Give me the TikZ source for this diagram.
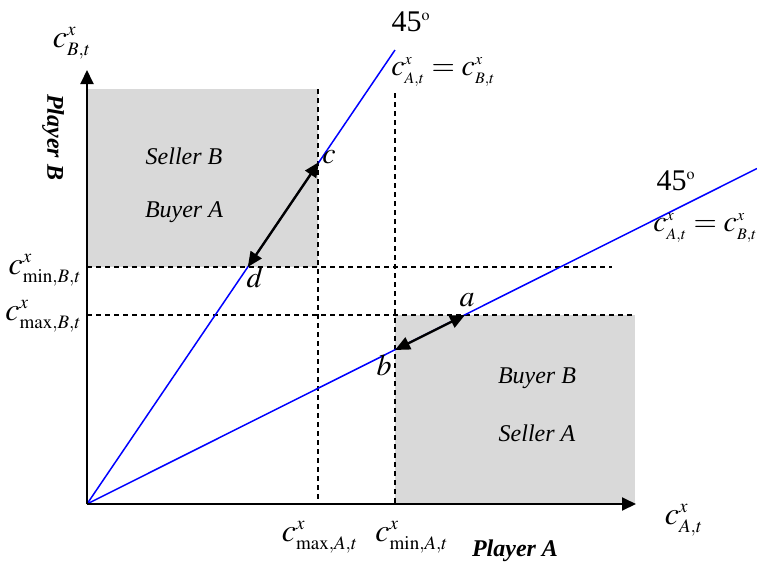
\documentclass[tikz,border=0pt]{standalone}
\usepackage{amsmath}
\usepackage{mathptmx}
\usepackage{fontspec}
\setmainfont{Liberation Serif}
\usetikzlibrary{arrows.meta, positioning}
\DeclareMathSizes{15}{15}{8}{6}
\DeclareMathSizes{16}{16}{9.5}{7}
\definecolor{zonegray}{HTML}{D9D9D9}
\definecolor{diagblue}{HTML}{0000FF}

\begin{document}
\begin{tikzpicture}[x=0.5pt, y=-0.5pt,
  axis/.style={line width=1pt, -{Triangle[length=7pt, width=6.5pt]}},
  diag/.style={line width=0.75pt, diagblue},
  bound/.style={line width=0.7pt, dash pattern=on 2.5pt off 2pt},
  move/.style={line width=1.2pt, {Triangle[length=7.5pt, width=6.5pt]}-{Triangle[length=7.5pt, width=6.5pt]}},
  lbl/.style={font=\fontsize{15}{17}\selectfont, inner sep=1pt},
  tick/.style={font=\fontsize{16}{18}\selectfont, inner sep=1pt},
  zone/.style={font=\fontsize{12}{14}\selectfont\itshape, inner sep=1pt},
  player/.style={font=\fontsize{12}{14}\selectfont\bfseries\itshape, inner sep=1pt},
  pt/.style={font=\fontsize{15}{17}\selectfont, inner sep=1pt}
]
\useasboundingbox (0,0) rectangle (757,564);

% origin, axes ends
\coordinate (O) at (87,504);
\coordinate (xtip) at (636,504);
\coordinate (ytip) at (87,70);

% bounds
\coordinate (maxAtop) at (318,89);
\coordinate (maxAbot) at (318,504);
\coordinate (minAtop) at (395,93);
\coordinate (minAbot) at (395,504);
\coordinate (minBl) at (87,267);
\coordinate (minBr) at (612,267);
\coordinate (maxBl) at (87,315);
\coordinate (maxBr) at (635,315);

% 45 degree lines
\coordinate (steep) at (395,50);
\coordinate (flat) at (757,168.5);
\coordinate (a) at (465,315);
\coordinate (b) at (395,350);
\coordinate (c) at (319,162);
\coordinate (d) at (247.8,267);

% shaded zones
\fill[zonegray] (87,89) rectangle (318,267);
\fill[zonegray] (395,315) rectangle (635,504);

\draw[bound] (maxAtop) -- (maxAbot);
\draw[bound] (minAtop) -- (minAbot);
\draw[bound] (minBl) -- (minBr);
\draw[bound] (maxBl) -- (maxBr);

\draw[diag] (O) -- (steep);
\draw[diag] (O) -- (flat);

\draw[axis] (O) -- (xtip);
\draw[axis] (O) -- (ytip);

\draw[move] (d) -- (c);
\draw[move] (b) -- (a);

% labels
\node[lbl] (deg1) at (411,22) {45$^{\mathrm{o}}$};
\node[lbl, anchor=west] (eq1) at (389,72) {$c^x_{A,t}=c^x_{B,t}$};
\node[lbl] (deg2) at (676,181) {45$^{\mathrm{o}}$};
\node[lbl, anchor=west] (eq2) at (651,228) {$c^x_{A,t}=c^x_{B,t}$};

\node[tick] (ylab) at (72,43) {$c^x_{B,t}$};
\node[tick] (xlab) at (684,520) {$c^x_{A,t}$};
\node[tick, anchor=east] (minB) at (84,270) {$c^x_{\mathrm{min},B,t}$};
\node[tick, anchor=east] (maxB) at (84,316) {$c^x_{\mathrm{max},B,t}$};
\node[tick] (maxA) at (320,537) {$c^x_{\mathrm{max},A,t}$};
\node[tick] (minA) at (412,537) {$c^x_{\mathrm{min},A,t}$};

\node[player, rotate=-90] (plB) at (53,137) {Player B};
\node[player] (plA) at (515,551) {Player A};

\node[zone] (sellB) at (184,156) {Seller B};
\node[zone] (buyA) at (184,212) {Buyer A};
\node[zone] (buyB) at (537,378) {Buyer B};
\node[zone] (sellA) at (537,433) {Seller A};

\node[pt] at (467,300) {$a$};
\node[pt] at (384,365) {$b$};
\node[pt] at (329,157) {$c$};
\node[pt] at (255,277) {$d$};
\end{tikzpicture}
\end{document}
